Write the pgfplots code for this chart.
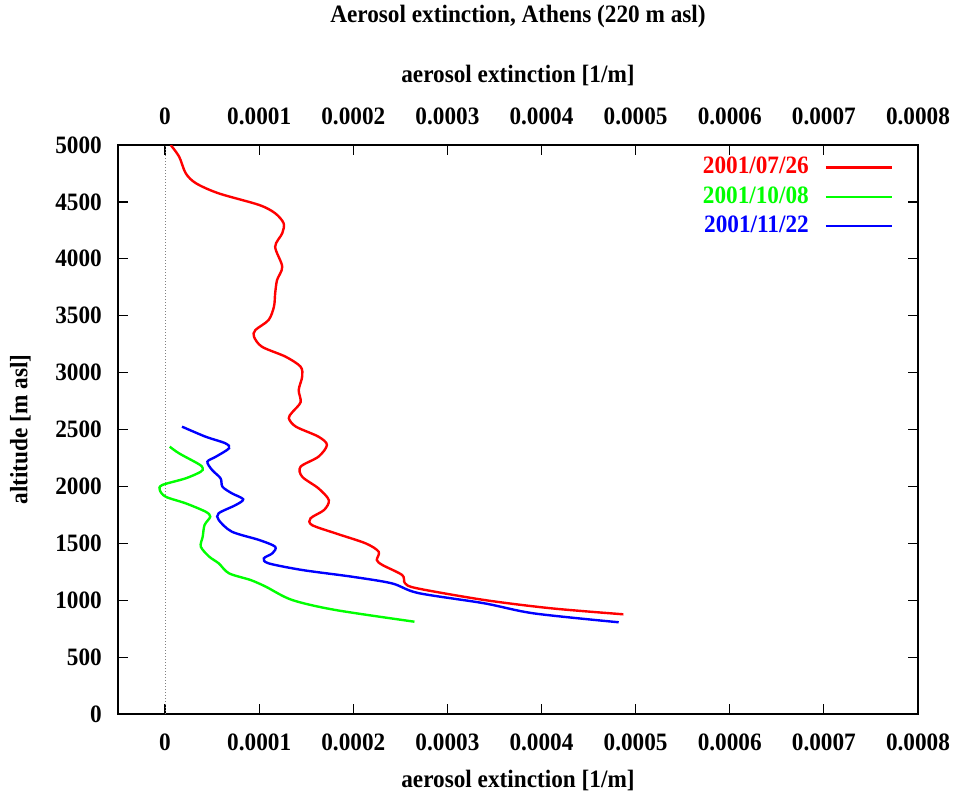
\documentclass[border=0pt]{standalone}
\usepackage{fontspec}
\setmainfont{Liberation Serif}[FakeStretch=0.93]
\usepackage{pgfplots}
\pgfplotsset{compat=1.18}
\begin{document}
\fontsize{25}{28}\selectfont\bfseries
\begin{tikzpicture}
\useasboundingbox (-118pt,-81pt) rectangle (835pt,714pt);
\begin{axis}[
  at={(0pt,0pt)}, anchor=south west,
  scale only axis, width=800pt, height=569pt,
  xmin=-0.00005, xmax=0.0008, ymin=0, ymax=5000,
  xtick={0,0.0001,0.0002,0.0003,0.0004,0.0005,0.0006,0.0007,0.0008},
  xticklabels={0,0.0001,0.0002,0.0003,0.0004,0.0005,0.0006,0.0007,0.0008},
  ytick={0,500,1000,1500,2000,2500,3000,3500,4000,4500,5000},
  yticklabels={0,500,1000,1500,2000,2500,3000,3500,4000,4500,5000},
  scaled x ticks=false,
  tick align=inside, major tick length=10pt,
  tick style={line width=1.2pt, black},
  axis line style={line width=1.2pt},
  xticklabel style={inner sep=0pt, anchor=north, yshift=-20pt},
  yticklabel style={inner sep=0pt, anchor=east, xshift=-16pt},
  xlabel={aerosol extinction [1/m]},
  xlabel style={at={(axis description cs:0.5,-0.116)}, anchor=center},
  ylabel={altitude [m asl]},
  ylabel style={at={(axis description cs:-0.122,0.5)}, anchor=center, rotate=0},
  legend plot pos=right,
  legend cell align=right,
  legend style={at={(axis description cs:0.973,0.986)}, anchor=north east, draw=none, fill=none, row sep=5pt, column sep=14pt, nodes={inner sep=2pt}},
  legend image code/.code={\draw[#1, line width=2.4pt] (0pt,0pt) -- (66pt,0pt);},
]
\addplot[gray, dotted, line width=1pt, forget plot] coordinates {(0,0) (0,5000)};
\addplot[red, line width=2.4pt, smooth] coordinates {
(0.06e-4,5000) (0.15e-4,4897) (0.22e-4,4751) (0.33e-4,4663) (0.57e-4,4575)
(1.0e-4,4473) (1.17e-4,4400) (1.26e-4,4312) (1.245e-4,4224) (1.17e-4,4106)
(1.245e-4,3931) (1.19e-4,3813) (1.17e-4,3697) (1.157e-4,3579) (1.10e-4,3462)
(0.96e-4,3374) (0.945e-4,3315) (1.03e-4,3227) (1.28e-4,3140) (1.44e-4,3052)
(1.457e-4,2964) (1.42e-4,2847) (1.44e-4,2740) (1.35e-4,2650) (1.315e-4,2598)
(1.39e-4,2525) (1.63e-4,2437) (1.72e-4,2364) (1.63e-4,2261) (1.44e-4,2173)
(1.457e-4,2085) (1.63e-4,1983) (1.74e-4,1880) (1.69e-4,1793) (1.546e-4,1720)
(1.56e-4,1661) (1.81e-4,1588) (2.13e-4,1500) (2.27e-4,1426) (2.25e-4,1353)
(2.31e-4,1309) (2.52e-4,1221) (2.55e-4,1148) (2.68e-4,1104) (3.39e-4,1002)
(4.10e-4,929) (4.87e-4,876)};
\addlegendentry{\textcolor{red}{2001/07/26}}
\addplot[green, line width=2.4pt, smooth] coordinates {
(0.05e-4,2349) (0.15e-4,2290) (0.36e-4,2195) (0.40e-4,2160) (0.38e-4,2129)
(0.22e-4,2071) (-0.03e-4,2012) (-0.056e-4,1968) (0.007e-4,1909) (0.22e-4,1851)
(0.43e-4,1778) (0.48e-4,1734) (0.42e-4,1661) (0.40e-4,1558) (0.38e-4,1470)
(0.47e-4,1382) (0.57e-4,1324) (0.68e-4,1236) (0.91e-4,1177) (1.07e-4,1119)
(1.35e-4,1002) (1.81e-4,914) (2.65e-4,811)};
\addlegendentry{\textcolor{green}{2001/10/08}}
\addplot[blue, line width=2.4pt, smooth] coordinates {
(0.18e-4,2525) (0.43e-4,2437) (0.64e-4,2379) (0.68e-4,2335) (0.54e-4,2261)
(0.45e-4,2217) (0.50e-4,2144) (0.59e-4,2071) (0.61e-4,1997) (0.71e-4,1939)
(0.83e-4,1887) (0.75e-4,1836) (0.57e-4,1764) (0.57e-4,1705) (0.71e-4,1602)
(1.0e-4,1529) (1.17e-4,1470) (1.14e-4,1412) (1.05e-4,1368) (1.10e-4,1324)
(1.46e-4,1265) (1.99e-4,1206) (2.41e-4,1148) (2.69e-4,1063) (3.39e-4,973)
(3.92e-4,884) (4.82e-4,806)};
\addlegendentry{\textcolor{blue}{2001/11/22}}
\end{axis}
\begin{axis}[
  at={(0pt,0pt)}, anchor=south west,
  scale only axis, width=800pt, height=569pt,
  xmin=-0.00005, xmax=0.0008, ymin=0, ymax=5000,
  axis x line*=top, axis y line=none,
  x axis line style={draw=none}, major tick length=0pt,
  xtick={0,0.0001,0.0002,0.0003,0.0004,0.0005,0.0006,0.0007,0.0008},
  xticklabels={0,0.0001,0.0002,0.0003,0.0004,0.0005,0.0006,0.0007,0.0008},
  scaled x ticks=false,
  xticklabel style={inner sep=0pt, anchor=south, yshift=20pt},
  xlabel={aerosol extinction [1/m]},
  xlabel style={at={(axis description cs:0.5,1.123)}, anchor=center},
  title={Aerosol extinction, Athens (220 m asl)},
  title style={at={(axis description cs:0.5,1.216)}, anchor=center},
]
\addplot[draw=none] coordinates {(0,0)};
\end{axis}
\end{tikzpicture}
\end{document}
